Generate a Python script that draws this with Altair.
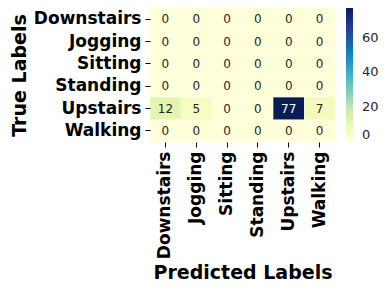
import altair as alt
import pandas as pd

labels = ["Downstairs", "Jogging", "Sitting", "Standing", "Upstairs", "Walking"]
matrix = [
    [0, 0, 0, 0, 0, 0],
    [0, 0, 0, 0, 0, 0],
    [0, 0, 0, 0, 0, 0],
    [0, 0, 0, 0, 0, 0],
    [12, 5, 0, 0, 77, 7],
    [0, 0, 0, 0, 0, 0],
]
ylgnbu = ["#ffffd9", "#edf8b1", "#c7e9b4", "#7fcdbb", "#41b6c4",
          "#1d91c0", "#225ea8", "#253494", "#081d58"]

rows = []
for i, t in enumerate(labels):
    for j, p in enumerate(labels):
        rows.append({"True": t, "Pred": p, "v": matrix[i][j]})
df = pd.DataFrame(rows)

font = "DejaVu Sans"
x = alt.X("Pred:N", sort=labels, title="Predicted Labels",
          scale=alt.Scale(paddingInner=0, paddingOuter=0),
          axis=alt.Axis(labelAngle=-90, labelFont=font, labelFontWeight="bold",
                        labelFontSize=17, labelColor="black", titleFont=font,
                        titleFontWeight="bold", titleFontSize=19, titleColor="black",
                        domain=False, tickColor="black", tickSize=5, labelPadding=4,
                        titlePadding=5))
y = alt.Y("True:N", sort=labels, title="True Labels",
          scale=alt.Scale(paddingInner=0, paddingOuter=0),
          axis=alt.Axis(labelFont=font, labelFontWeight="bold", labelFontSize=17,
                        labelColor="black", titleFont=font, titleFontWeight="bold",
                        titleFontSize=19, titleColor="black", domain=False,
                        tickColor="black", tickSize=5, labelPadding=4, titlePadding=4))

rect = alt.Chart(df).mark_rect().encode(
    x=x, y=y,
    color=alt.Color("v:Q", scale=alt.Scale(range=ylgnbu, domain=[0, 77]),
                    legend=alt.Legend(title=None, gradientLength=134, gradientThickness=7,
                                      values=[0, 20, 40, 60], labelFont=font,
                                      labelFontSize=13, labelColor="#262626", offset=11,
                                      labelOffset=9, gradientStrokeWidth=0, padding=0)),
)
text = alt.Chart(df).mark_text(font=font, fontSize=12).encode(
    x=alt.X("Pred:N", sort=labels), y=alt.Y("True:N", sort=labels),
    text="v:Q",
    color=alt.condition(alt.datum.v > 40, alt.value("white"), alt.value("#262626")),
)

chart = (rect + text).properties(
    width=185, height=134,
    padding={"left": 2, "top": 0, "right": 0, "bottom": 0},
).configure_view(stroke=None)
chart.save("out.html", embed_options={"renderer": "svg", "actions": False})
